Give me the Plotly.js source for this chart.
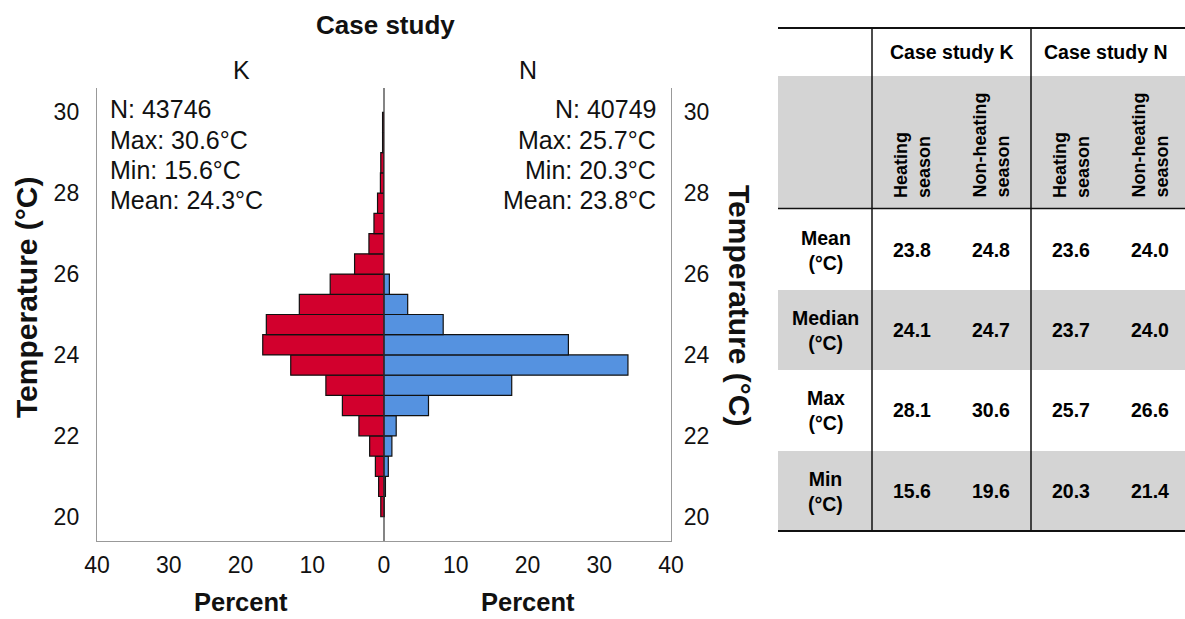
<!DOCTYPE html>
<html>
<head>
<meta charset="utf-8">
<script src="https://cdn.plot.ly/plotly-3.0.1.min.js"></script>
<style>
html,body{margin:0;padding:0;background:#fff;}
#chart{width:1185px;height:619px;}
</style>
</head>
<body>
<div id="chart"></div>
<script>
// ---- Data ----
var binCenters = [20.25, 20.75, 21.25, 21.75, 22.25, 22.75, 23.25, 23.75, 24.25, 24.75,
                  25.25, 25.75, 26.25, 26.75, 27.25, 27.75, 28.25, 28.75, 29.25, 29.75];
var percentK = [0.45, 0.75, 1.2, 2.0, 3.5, 5.8, 8.1, 13.0, 16.9, 16.4,
                11.8, 7.5, 4.1, 2.1, 1.4, 0.9, 0.5, 0.45, 0.2, 0.2];
var percentN = [0.05, 0.2, 0.6, 1.1, 1.7, 6.2, 17.8, 34.0, 25.7, 8.25,
                3.3, 0.75, null, null, null, null, null, null, null, null];
var percentTicks = [0, 10, 20, 30, 40];
var tempTicks = [20, 22, 24, 26, 28, 30];

var statsK = ["N: 43746", "Max: 30.6°C", "Min: 15.6°C", "Mean: 24.3°C"];
var statsN = ["N: 40749", "Max: 25.7°C", "Min: 20.3°C", "Mean: 23.8°C"];

var tableGroups = ["Case study K", "Case study N"];
var tableSeasons = ["Heating<br>season", "Non-heating<br>season", "Heating<br>season", "Non-heating<br>season"];
var tableRowLabels = ["Mean<br>(°C)", "Median<br>(°C)", "Max<br>(°C)", "Min<br>(°C)"];
var tableMean   = ["23.8", "24.8", "23.6", "24.0"];
var tableMedian = ["24.1", "24.7", "23.7", "24.0"];
var tableMax    = ["28.1", "30.6", "25.7", "26.6"];
var tableMin    = ["15.6", "19.6", "20.3", "21.4"];
var tableValues = [tableMean, tableMedian, tableMax, tableMin];

// ---- Geometry helpers (pixel -> paper) ----
var L = 97, R = 671, T = 88, B = 541;
function px(x) { return (x - L) / (R - L); }
function py(y) { return (B - y) / (B - T); }

var FONT = '"Liberation Sans", Arial, sans-serif';
var RED = '#d2002d', BLUE = '#5592e0', GRAY = '#d4d4d4';

var traces = [
  { type: 'bar', orientation: 'h', y: binCenters, x: percentK, width: 0.5,
    xaxis: 'x', yaxis: 'y',
    marker: { color: RED, line: { color: '#111', width: 1.2 } } },
  { type: 'bar', orientation: 'h', y: binCenters, x: percentN, width: 0.5,
    xaxis: 'x2', yaxis: 'y2',
    marker: { color: BLUE, line: { color: '#111', width: 1.2 } } }
];

var shapes = [];
var annotations = [];

// center zero line
shapes.push({ type: 'line', xref: 'paper', yref: 'paper', x0: 0.5, x1: 0.5, y0: 0, y1: 1,
  line: { color: '#333', width: 1.2 } });

function ann(text, x, y, opts) {
  var a = Object.assign({ text: text, xref: 'paper', yref: 'paper', x: px(x), y: py(y),
    showarrow: false, xanchor: 'center', yanchor: 'middle',
    font: { family: FONT, size: 22, color: '#111' } }, opts || {});
  annotations.push(a);
}
ann('<b>Case study</b>', 385, 25, { font: { family: FONT, size: 26, color: '#111' } });
ann('K', 241, 70, { font: { family: FONT, size: 25, color: '#111' } });
ann('N', 528, 70, { font: { family: FONT, size: 25, color: '#111' } });
var statY = [109, 140, 170, 200];
statsK.forEach(function (s, i) {
  ann(s, 108, statY[i], { xanchor: 'left', font: { family: FONT, size: 25, color: '#111' } });
});
statsN.forEach(function (s, i) {
  ann(s, 658, statY[i], { xanchor: 'right', font: { family: FONT, size: 25, color: '#111' } });
});
ann('<b>Percent</b>', 240.5, 602, { borderpad: 0, font: { family: FONT, size: 25.5, color: '#111' } });
ann('<b>Percent</b>', 527.5, 602, { borderpad: 0, font: { family: FONT, size: 25.5, color: '#111' } });
ann('<b>Temperature (°C)</b>', 26, 298, { textangle: -90, font: { family: FONT, size: 30, color: '#111' } });
ann('<b>Temperature (°C)</b>', 740, 305, { textangle: 90, font: { family: FONT, size: 30, color: '#111' } });

// ---- Table ----
var TX0 = 778, TX1 = 1185;
function rect(x0, y0, x1, y1, color) {
  shapes.push({ type: 'rect', xref: 'paper', yref: 'paper', x0: px(x0), x1: px(x1), y0: py(y1), y1: py(y0),
    fillcolor: color, line: { width: 0 }, layer: 'below' });
}
function hline(y, x0, x1, w) {
  shapes.push({ type: 'line', xref: 'paper', yref: 'paper', x0: px(x0), x1: px(x1), y0: py(y), y1: py(y),
    line: { color: '#111', width: w } });
}
function vline(x, y0, y1, w) {
  shapes.push({ type: 'line', xref: 'paper', yref: 'paper', x0: px(x), x1: px(x), y0: py(y0), y1: py(y1),
    line: { color: '#111', width: w } });
}
rect(TX0, 76, TX1, 208, GRAY);
rect(TX0, 290, TX1, 370, GRAY);
rect(TX0, 451, TX1, 531, GRAY);
hline(28, TX0, TX1, 2);
hline(208.5, TX0, TX1, 1.5);
hline(531, TX0, TX1, 2);
vline(872, 28, 531, 1.5);
vline(1031, 28, 531, 1.5);

var TFONT = { family: FONT, size: 19.5, color: '#000' };
var groupX = [952, 1106];
tableGroups.forEach(function (g, i) { ann('<b>' + g + '</b>', groupX[i], 52, { font: TFONT }); });
var colX = [912, 991, 1071, 1150];
tableSeasons.forEach(function (s, i) {
  ann('<b>' + s + '</b>', colX[i], 200, { textangle: -90, align: 'left', yanchor: 'bottom',
    font: { family: FONT, size: 18, color: '#000' } });
});
var rowY = [250, 330, 410, 491];
tableRowLabels.forEach(function (r, i) { ann('<b>' + r + '</b>', 826, rowY[i], { font: TFONT }); });
tableValues.forEach(function (row, i) {
  row.forEach(function (v, j) { ann('<b>' + v + '</b>', colX[j], rowY[i], { font: TFONT }); });
});

var axisFont = { family: FONT, size: 23, color: '#111' };
var layout = {
  width: 1185, height: 619,
  margin: { l: L, r: 1185 - R, t: T, b: 619 - B, pad: 0 },
  paper_bgcolor: '#fff', plot_bgcolor: '#fff',
  showlegend: false, bargap: 0,
  font: { family: FONT },
  xaxis: { domain: [0, 0.5], range: [40, 0], anchor: 'y', tickvals: percentTicks,
    showline: true, linecolor: '#999', linewidth: 1.2, showgrid: false, zeroline: false,
    ticks: '', tickfont: axisFont, ticklabelstandoff: 3, fixedrange: true },
  xaxis2: { domain: [0.5, 1], range: [0, 40], anchor: 'y2', tickvals: percentTicks.slice(1),
    showline: true, linecolor: '#999', linewidth: 1.2, showgrid: false, zeroline: false,
    ticks: '', tickfont: axisFont, ticklabelstandoff: 3, fixedrange: true },
  yaxis: { range: [19.4, 30.6], anchor: 'x', side: 'left', tickvals: tempTicks,
    showline: true, linecolor: '#999', linewidth: 1.2, showgrid: false, zeroline: false,
    ticks: '', tickfont: axisFont, ticklabelstandoff: 12, fixedrange: true },
  yaxis2: { range: [19.4, 30.6], anchor: 'x2', side: 'right', matches: 'y', tickvals: tempTicks,
    showline: true, linecolor: '#999', linewidth: 1.2, showgrid: false, zeroline: false,
    ticks: '', tickfont: axisFont, ticklabelstandoff: 7, fixedrange: true },
  shapes: shapes,
  annotations: annotations
};

Plotly.newPlot('chart', traces, layout, { staticPlot: true, displayModeBar: false });
</script>
</body>
</html>
